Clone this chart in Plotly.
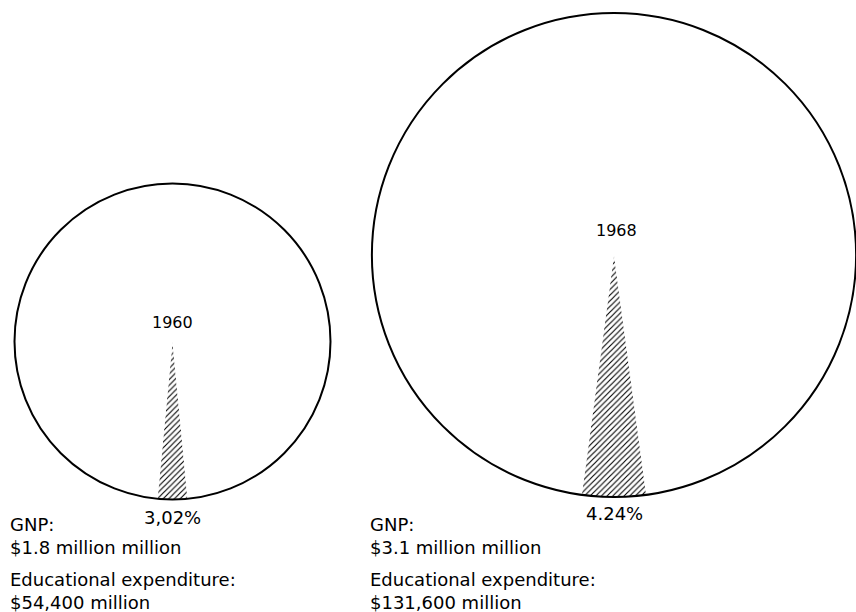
import plotly.graph_objects as go

# ---- data ----
years = ["1960", "1968"]
gnp_million = [1_800_000, 3_100_000]          # GNP in $ million
edu_million = [54_400, 131_600]               # educational expenditure in $ million
pct_labels = ["3,02%", "4.24%"]
gnp_labels = ["$1.8 million million", "$3.1 million million"]
edu_labels = ["$54,400 million", "$131,600 million"]

W, H = 856, 612
FONT = "DejaVu Sans"

# pixel geometry of each pie (center x, center y, radius)
geo = [(172.5, 341.5, 158), (614, 255, 242)]


def px_dom(cx, cy, r):
    return dict(x=[(cx - r) / W, min((cx + r) / W, 1.0)],
                y=[1 - (cy + r) / H, 1 - (cy - r) / H])


fig = go.Figure()
annots = []
for i, (cx, cy, r) in enumerate(geo):
    edu = edu_million[i]
    rest = gnp_million[i] - edu
    share = edu / gnp_million[i]
    dom = px_dom(cx, cy, r)
    # hatched wedge + blank remainder
    fig.add_trace(go.Pie(
        values=[edu, rest], labels=["Educational expenditure", "Other GNP"],
        sort=False, direction="clockwise",
        rotation=180 - share * 360 / 2,
        textinfo="none", hoverinfo="label+value",
        showlegend=False, domain=dom,
        marker=dict(colors=["white", "white"],
                    line=dict(width=0),
                    pattern=dict(shape=["/", ""], fgcolor="black",
                                 bgcolor="white", size=4, solidity=0.28)),
    ))
    # circle outline (whole GNP)
    fig.add_trace(go.Pie(
        values=[gnp_million[i]], labels=["GNP"], sort=False,
        textinfo="none", hoverinfo="skip", showlegend=False, domain=dom,
        marker=dict(colors=["rgba(0,0,0,0)"], line=dict(color="black", width=2)),
    ))

# text annotations
year_pos = [(172, 322), (616, 230)]
pct_pos = [(172, 517), (614, 513)]
block_x = [8, 368]
for i in range(2):
    annots.append(dict(x=year_pos[i][0] / W, y=1 - year_pos[i][1] / H, text=years[i],
                       font=dict(size=16)))
    annots.append(dict(x=pct_pos[i][0] / W, y=1 - pct_pos[i][1] / H, text=pct_labels[i],
                       font=dict(size=18)))
    annots.append(dict(x=block_x[i] / W, y=1 - 535.5 / H, xanchor="left", align="left",
                       text="GNP:<br>" + gnp_labels[i], font=dict(size=18)))
    annots.append(dict(x=block_x[i] / W, y=1 - 591 / H, xanchor="left", align="left",
                       text="Educational expenditure:<br>" + edu_labels[i], font=dict(size=18)))

for a in annots:
    a.setdefault("xanchor", "center")
    a.update(xref="paper", yref="paper", yanchor="middle", showarrow=False)
    a["font"].update(family=FONT, color="black")

fig.update_layout(
    width=W, height=H,
    margin=dict(l=0, r=0, t=0, b=0),
    paper_bgcolor="white", plot_bgcolor="white",
    annotations=annots,
    font=dict(family=FONT, color="black"),
)

fig.write_html("out.html", config={"displayModeBar": False},
               post_script="document.body.style.margin='0';document.body.style.overflow='hidden';")
